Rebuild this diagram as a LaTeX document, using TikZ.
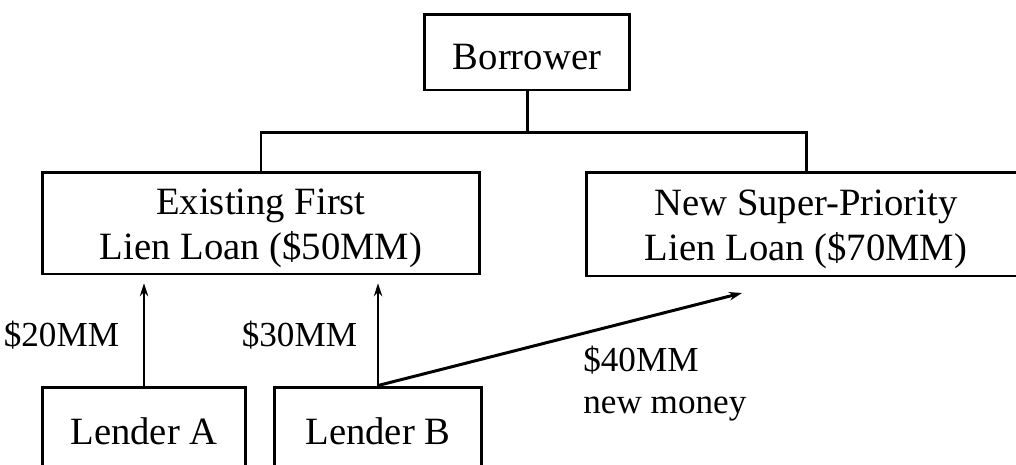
\documentclass[tikz,border=0pt]{standalone}
\usepackage{fontspec}
\setmainfont{Liberation Serif}
\usetikzlibrary{positioning,arrows.meta}

% lifts the top of a box text so that it sits a little lower
\newcommand{\padtop}{\rule{0pt}{20.5pt}}

\tikzstyle{plain_box} = [rectangle, draw=black, line width=1.7pt, align=center, inner sep=0pt, font=\fontsize{22}{26}\selectfont]
\tikzstyle{link} = [line width=1.7pt]
\tikzstyle{arrow} = [line width=1.1pt,->,>={Stealth[length=0.26cm,width=0.17cm]}]
\tikzstyle{amount} = [inner sep=0pt, font=\fontsize{20}{24}\selectfont]

\begin{document}
\begin{tikzpicture}[x=0.02cm, y=-0.02cm]
        \useasboundingbox (0,0) rectangle (1016,464);

        \node (borrower) [plain_box, minimum width=4.12cm, minimum height=1.52cm] at (527,52) {\padtop Borrower};
        \node (existing) [plain_box, minimum width=8.76cm, minimum height=2.04cm] at (261,223) {\padtop Existing First\\Lien Loan (\$50MM)};
        \node (superloan) [plain_box, minimum width=8.8cm, minimum height=2.08cm] at (806,224) {\padtop New Super-Priority\\Lien Loan (\$70MM)};
        \node (lender_a) [plain_box, minimum width=4.08cm, minimum height=1.6cm] at (144,427) {\padtop Lender A};
        \node (lender_b) [plain_box, minimum width=4.16cm, minimum height=1.6cm] at (378,427) {\padtop Lender B};

        \coordinate (bus) at (527,132);
        \coordinate (super_tip) at (742,293);

        \draw [link] (borrower.south) -- (bus);
        \draw [link] (existing.north) |- (bus) -| (superloan.north);

        \draw [arrow, shorten >=4.5pt] (lender_a.north) -- node[amount, left=0.48cm, yshift=-0.1cm] {\$20MM} (lender_a.north |- existing.south);
        \draw [arrow, shorten >=4.5pt] (lender_b.north) -- node[amount, left=0.4cm, yshift=-0.1cm] {\$30MM} (lender_b.north |- existing.south);
        \draw [arrow, line width=1.7pt] (lender_b.north) -- node[amount, pos=0.56, anchor=north west, yshift=-0.22cm, align=left] {\$40MM\\new money} (super_tip);
    \end{tikzpicture}
\end{document}
